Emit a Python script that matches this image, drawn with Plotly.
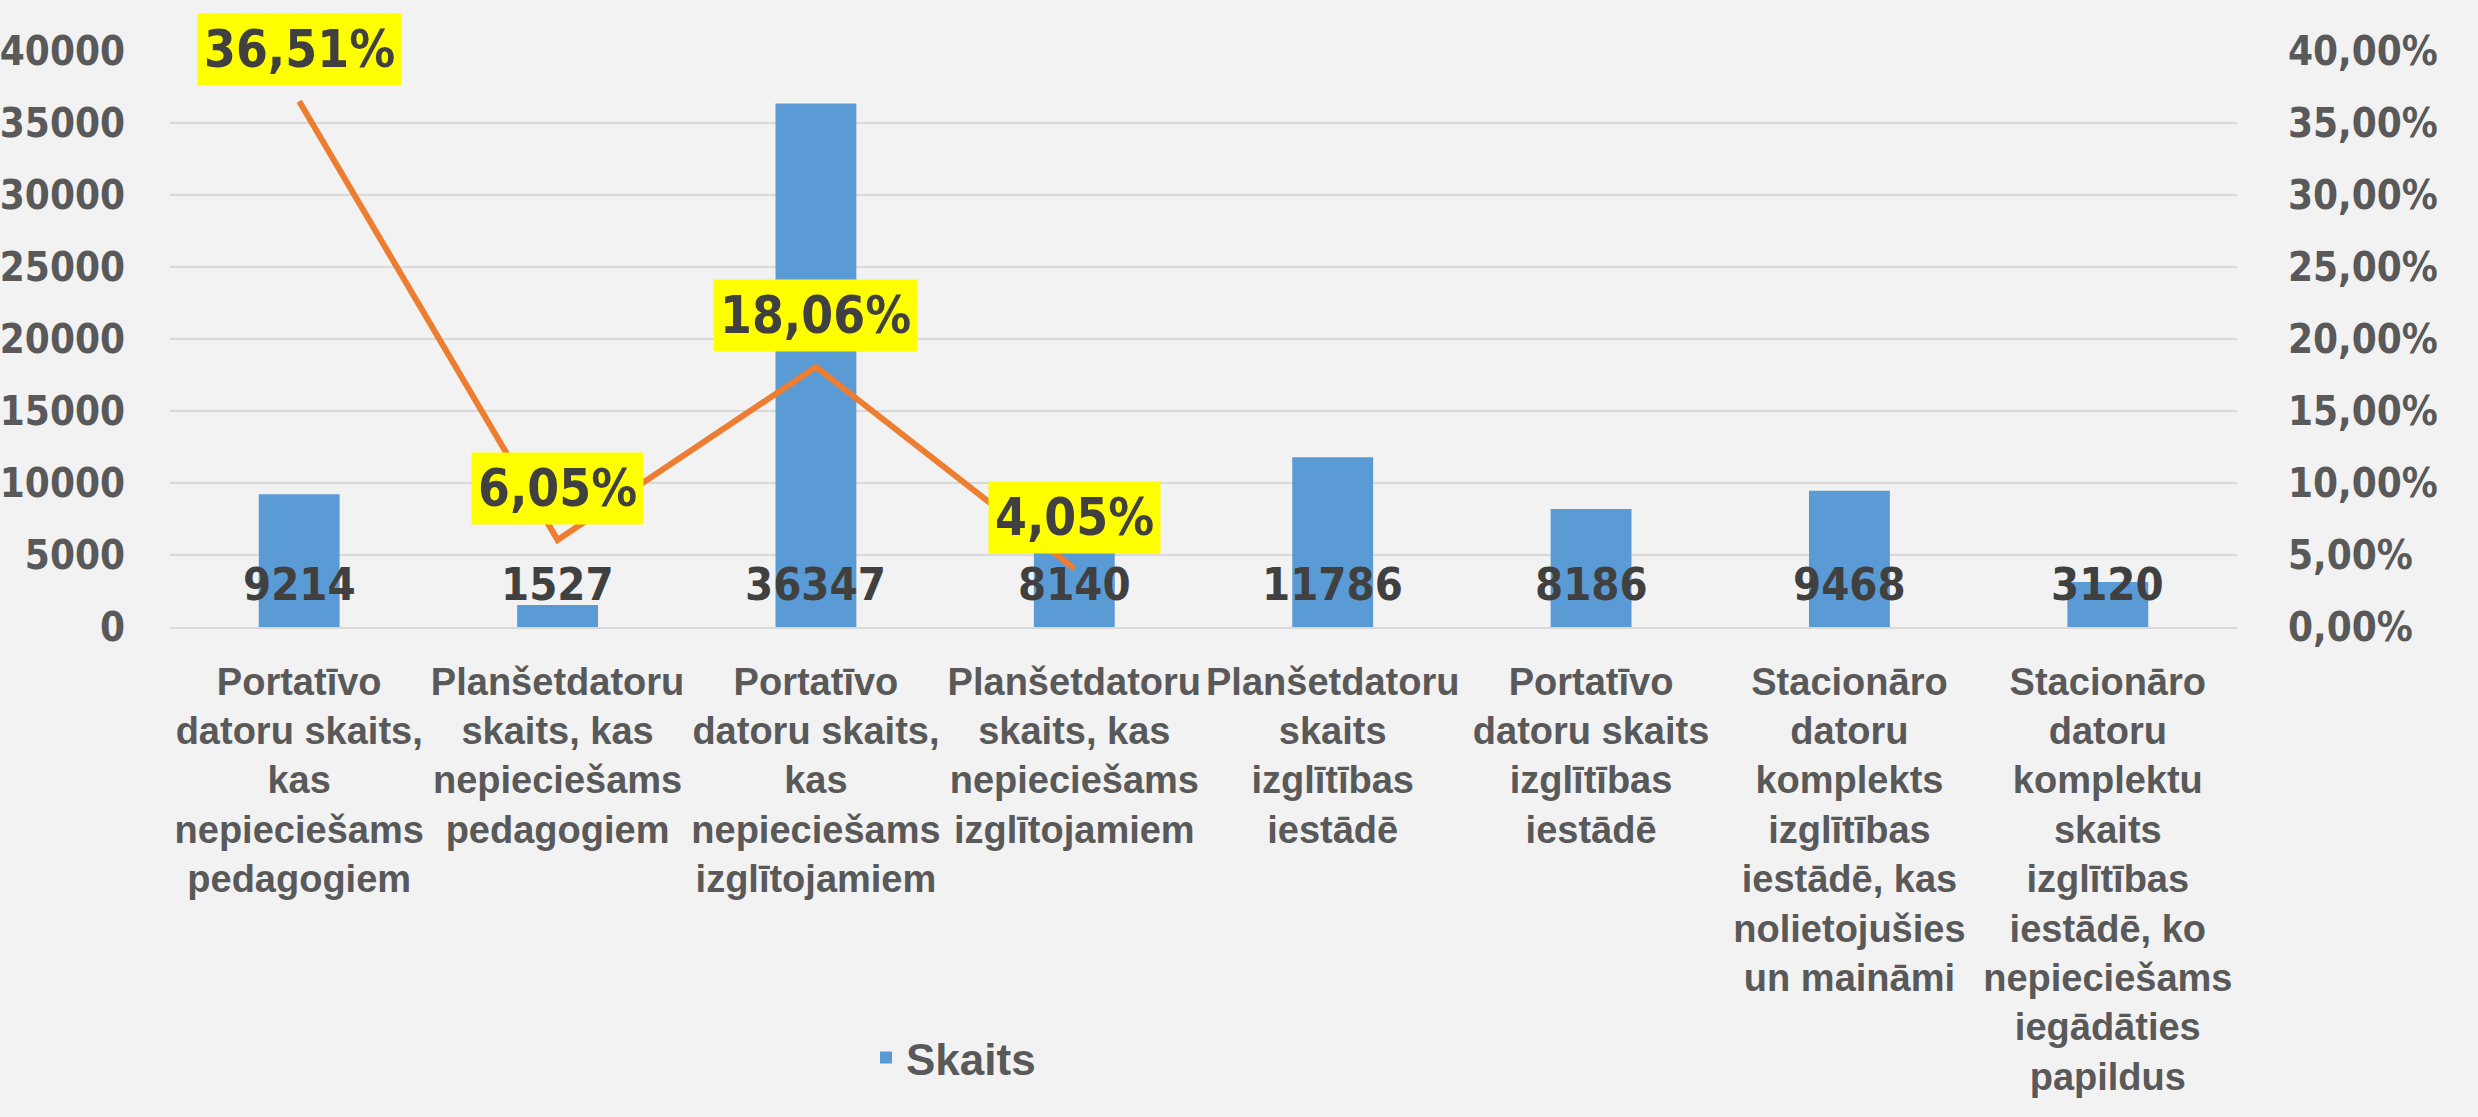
import plotly.graph_objects as go

categories = [
    "Portatīvo<br>datoru skaits,<br>kas<br>nepieciešams<br>pedagogiem",
    "Planšetdatoru<br>skaits, kas<br>nepieciešams<br>pedagogiem",
    "Portatīvo<br>datoru skaits,<br>kas<br>nepieciešams<br>izglītojamiem",
    "Planšetdatoru<br>skaits, kas<br>nepieciešams<br>izglītojamiem",
    "Planšetdatoru<br>skaits<br>izglītības<br>iestādē",
    "Portatīvo<br>datoru skaits<br>izglītības<br>iestādē",
    "Stacionāro<br>datoru<br>komplekts<br>izglītības<br>iestādē, kas<br>nolietojušies<br>un maināmi",
    "Stacionāro<br>datoru<br>komplektu<br>skaits<br>izglītības<br>iestādē, ko<br>nepieciešams<br>iegādāties<br>papildus",
]
skaits = [9214, 1527, 36347, 8140, 11786, 8186, 9468, 3120]
percent_categories = categories[:4]
percent_values = [0.3651, 0.0605, 0.1806, 0.0405]

NUM_FONT = "DejaVu Sans Condensed, DejaVu Sans, sans-serif"
CAT_FONT = "Liberation Sans, Arial, sans-serif"

fig = go.Figure()
fig.add_trace(go.Bar(
    x=categories, y=skaits, name="Skaits",
    marker=dict(color="#5B9BD5", line=dict(width=0)),
    showlegend=True,
))
fig.add_trace(go.Scatter(
    x=percent_categories, y=percent_values, yaxis="y2", mode="lines",
    line=dict(color="#ED7D31", width=6), showlegend=False, name="",
))

annotations = []
for c, v in zip(categories, skaits):
    annotations.append(dict(
        x=c, y=0, xref="x", yref="y", text=str(v), showarrow=False,
        yanchor="middle", yshift=43,
        font=dict(family=NUM_FONT, size=45, color="#404040", weight="bold"),
    ))
for c, v in zip(percent_categories, percent_values):
    annotations.append(dict(
        x=c, y=v, xref="x", yref="y2",
        text=f"{v*100:.2f}".replace(".", ",") + "%", showarrow=False,
        yanchor="bottom", yshift=15, bgcolor="#FFFF00", borderpad=6,
        font=dict(family=NUM_FONT, size=51, color="#404040", weight="bold"),
    ))

fig.update_layout(
    width=2478, height=1117,
    margin=dict(l=170, r=241, t=51, b=490),
    paper_bgcolor="#F2F2F2", plot_bgcolor="#F2F2F2",
    separators=",.",
    bargap=0.687,
    xaxis=dict(
        showgrid=False, showline=True, linecolor="#D9D9D9", linewidth=2,
        tickfont=dict(family=CAT_FONT, size=38, color="#595959", weight="bold"),
        tickangle=0, ticks="", ticklabelstandoff=20, automargin=False,
    ),
    yaxis=dict(
        range=[0, 40000], dtick=5000, tickformat="d",
        gridcolor="#D9D9D9", gridwidth=2, zeroline=False, showline=False,
        tickfont=dict(family=NUM_FONT, size=40, color="#595959", weight="bold"),
        ticks="", ticklabelstandoff=44, automargin=False,
    ),
    yaxis2=dict(
        range=[0, 0.4], dtick=0.05, tickformat=".2%", overlaying="y", side="right",
        showgrid=False, zeroline=False, showline=False,
        tickfont=dict(family=NUM_FONT, size=40, color="#595959", weight="bold"),
        ticks="", ticklabelstandoff=50, automargin=False,
    ),
    legend=dict(
        orientation="h", x=(866 - 170) / 2067, xanchor="left",
        y=(627 - 1058) / 576, yanchor="middle",
        font=dict(family=CAT_FONT, size=44, color="#595959", weight="bold"),
        bgcolor="rgba(0,0,0,0)",
    ),
    annotations=annotations,
)

fig.write_html("out.html")
